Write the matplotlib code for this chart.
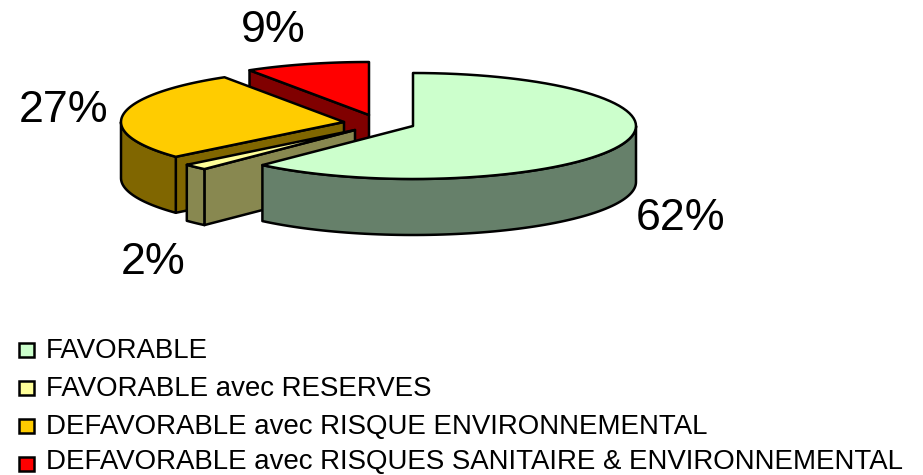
#!/usr/bin/env python3

import numpy as np
import matplotlib
matplotlib.use('Agg')
import matplotlib.pyplot as plt
from matplotlib.patches import Polygon, Rectangle

plt.rcParams['font.family'] = ['Liberation Sans', 'DejaVu Sans']

categories = [
    "FAVORABLE",
    "FAVORABLE avec RESERVES",
    "DEFAVORABLE avec RISQUE ENVIRONNEMENTAL",
    "DEFAVORABLE avec RISQUES SANITAIRE & ENVIRONNEMENTAL",
]
values = [61.8, 1.8, 27.4, 9.0]
colors = ['#CCFFCC', '#FFFF99', '#FFCC00', '#FF0000']
wall_colors = ['#66806A', '#888850', '#806600', '#800000']

# exploded centre of every slice, in pixels
centers = [(413, 126), (355, 130), (344, 122), (369, 115)]
label_pos = [(681, 219), (153, 263), (64, 110), (273, 31)]
legend_y = [350, 388, 426, 464]
# text baselines, the last one pulled up so it stays inside the picture
legend_base = [358, 396, 434, 469]

rx, ry, depth = 223, 53, 56


def rim(c, a0, a1) :
    # a0, a1 in degrees, clockwise from the top
    t = np.radians(np.linspace(a0, a1, 80))
    return np.column_stack((c[0] + rx * np.sin(t), c[1] - ry * np.cos(t)))


def down(pts) :
    return pts + np.array([0, depth])


def add_poly(ax, pts, color, z) :
    ax.add_patch(Polygon(pts, closed=True, facecolor=color, edgecolor='black', linewidth=1.8, joinstyle='round', zorder=z))


fig = plt.figure(figsize=(9.23, 4.75), dpi=100)
ax = fig.add_axes([0, 0, 1, 1])
ax.set_xlim(0, 923)
ax.set_ylim(475, 0)
ax.axis('off')

stop = np.cumsum(values) * 360.0 / sum(values)
start = np.concatenate(([0], stop[:-1]))

# back to front so that the front slices cover the others
order = [3, 2, 1, 0]
for z, i in enumerate(order) :
    a0, a1, c = start[i], stop[i], np.array(centers[i], dtype=float)
    base = 10 * z
    top = rim(c, a0, a1)

    if 180 < a0 < 360 :
        p = rim(c, a0, a0)[0]
        add_poly(ax, [c, p, p + [0, depth], c + [0, depth]], wall_colors[i], base)
    if 0 < a1 < 180 :
        p = rim(c, a1, a1)[0]
        add_poly(ax, [c, p, p + [0, depth], c + [0, depth]], wall_colors[i], base)

    lo, hi = max(a0, 90), min(a1, 270)
    if lo < hi :
        arc = rim(c, lo, hi)
        add_poly(ax, np.vstack((arc, down(arc)[::-1])), wall_colors[i], base + 1)

    add_poly(ax, np.vstack(([c], top)), colors[i], base + 2)

for v, (x, y) in zip(values, label_pos) :
    ax.text(x, y, f"{v:.0f}%", fontsize=32.2, ha='center', va='center', color='black', zorder=100)

for name, col, y, b in zip(categories, colors, legend_y, legend_base) :
    ax.add_patch(Rectangle((19, y - 7), 15, 14, facecolor=col, edgecolor='black', linewidth=1.8, zorder=100))
    ax.text(46, b, name, fontsize=19.9, ha='left', va='baseline', color='black', zorder=100)

fig.savefig('out.png', dpi=100)
